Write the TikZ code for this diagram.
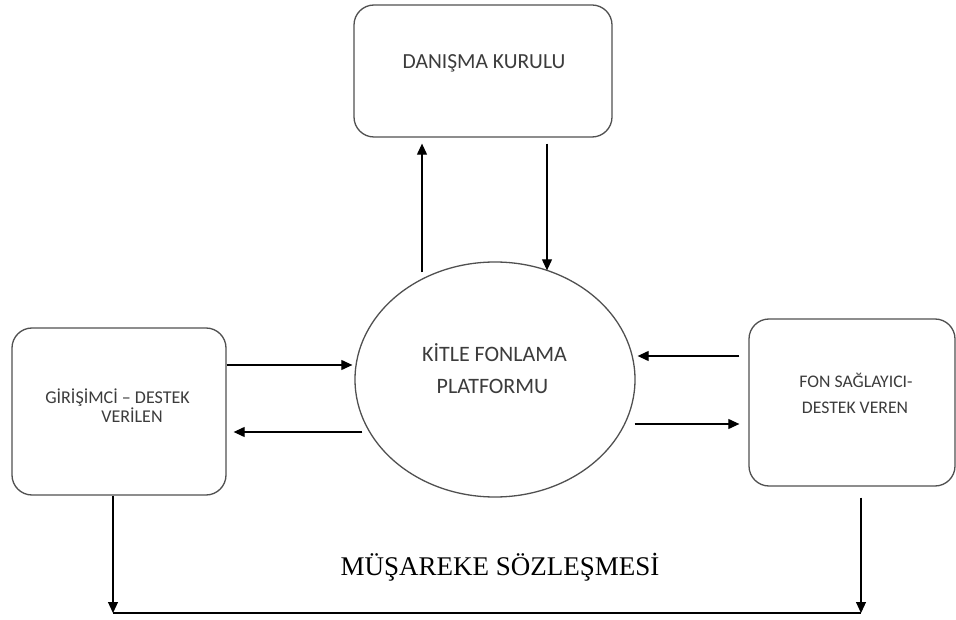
\documentclass[tikz,border=0pt]{standalone}
\usepackage{fontspec}
\setmainfont{Carlito}
\newfontfamily\serifT{Liberation Serif}
\usetikzlibrary{shapes.geometric,arrows.meta,calc}
\definecolor{boxline}{HTML}{505050}
\definecolor{txtgray}{HTML}{3C3C3C}
\tikzset{
  rbox/.style={draw=boxline, line width=1.3pt, rounded corners=20pt, inner sep=0pt},
  platform/.style={ellipse, draw=boxline, line width=1.3pt, inner sep=0pt, minimum width=280pt, minimum height=235pt},
  lbl/.style={anchor=base, inner sep=0pt, text=txtgray},
  arr/.style={draw=black, line width=1.1pt, -{Triangle[length=11pt,width=10pt]}},
  plain/.style={draw=black, line width=1.1pt}
}
\begin{document}
\begin{tikzpicture}[x=1pt,y=-1pt]
\useasboundingbox[fill=white] (0,0) rectangle (956,620);
% shapes
\node[rbox, minimum width=258pt, minimum height=132pt] (dk) at (483,71) {};
\node[platform] (plat) at (495,379.5) {};
\node[rbox, minimum width=214pt, minimum height=167pt] (gir) at (119,411.5) {};
\node[rbox, minimum width=206pt, minimum height=167pt] (fon) at (852,402.5) {};
% texts
\node[lbl, font=\fontsize{21.5}{24}\selectfont] (dkT) at (484,69) {DANIŞMA KURULU};
\node[lbl, font=\fontsize{22}{24}\selectfont] (platT1) at (494.5,362) {KİTLE FONLAMA};
\node[lbl, font=\fontsize{22}{24}\selectfont] (platT2) at (492.5,393) {PLATFORMU};
\node[lbl, font=\fontsize{18}{20}\selectfont] (girT1) at (117.5,403) {GİRİŞİMCİ – DESTEK};
\node[lbl, font=\fontsize{18}{20}\selectfont] (girT2) at (132,422) {VERİLEN};
\node[lbl, font=\fontsize{17.7}{20}\selectfont] (fonT1) at (856,388) {FON SAĞLAYICI-};
\node[lbl, font=\fontsize{17.7}{20}\selectfont] (fonT2) at (855,413) {DESTEK VEREN};
\node[lbl, text=black, font=\serifT\fontsize{27}{30}\selectfont] (mus) at (500,575) {MÜŞAREKE SÖZLEŞMESİ};
% connectors
\draw[arr] ([xshift=-73pt,yshift=-11pt]plat.north) -- ([xshift=-61pt,yshift=-6pt]dk.south);
\draw[arr] ([xshift=64pt,yshift=-6pt]dk.south) -- ([xshift=52pt,yshift=-9pt]plat.north);
\draw[arr] ([yshift=46.5pt]gir.east) -- ([xshift=-2pt,yshift=14.5pt]plat.west);
\draw[arr] ([xshift=8pt,yshift=-52.5pt]plat.west) -- ([xshift=7pt,yshift=-20.5pt]gir.east);
\draw[arr] ([xshift=-9pt,yshift=46.5pt]fon.west) -- ([xshift=2pt,yshift=23.5pt]plat.east);
\draw[arr] ([xshift=-1pt,yshift=-44.5pt]plat.east) -- ([xshift=-9pt,yshift=-21.5pt]fon.west);
% bottom contract line
\coordinate (bl) at (113,613);
\coordinate (br) at (861,613);
\draw[arr] (gir.south -| bl) -- (bl);
\draw[arr] ($(fon.south -| br)+(0,11)$) -- (br);
\draw[plain] (bl) -- (br);
\end{tikzpicture}
\end{document}
